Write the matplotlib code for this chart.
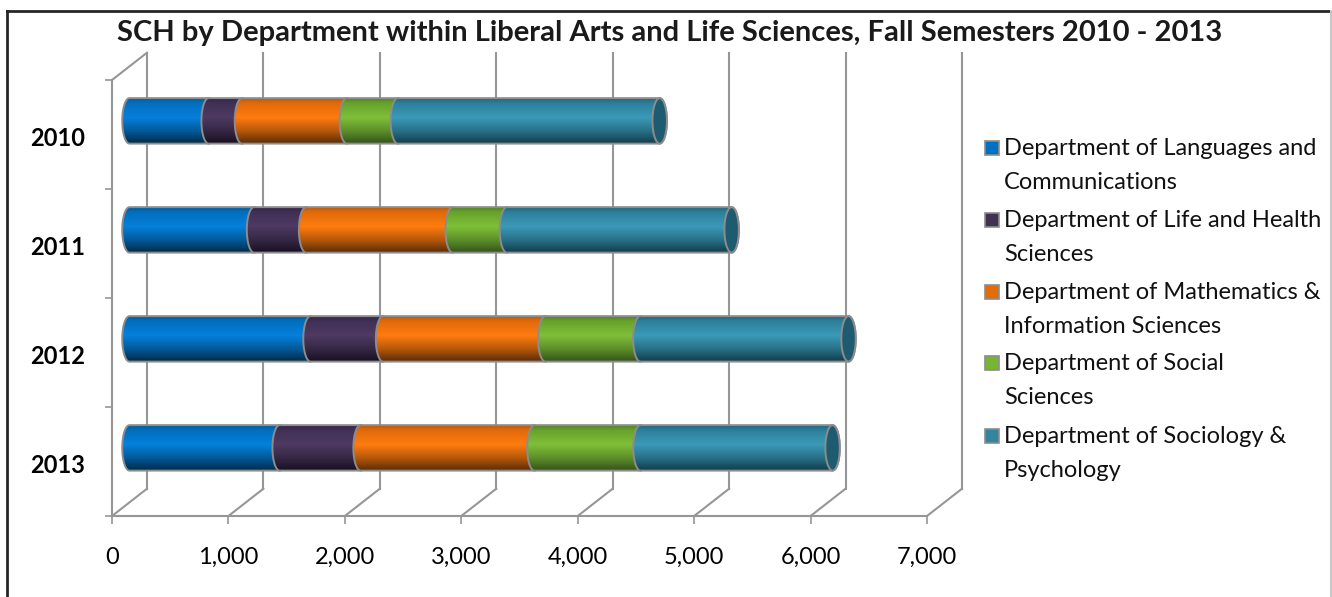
import matplotlib
matplotlib.use("Agg")
import matplotlib.pyplot as plt
import matplotlib.transforms as mtransforms
import numpy as np
from matplotlib.lines import Line2D
from matplotlib.patches import PathPatch, Rectangle
from matplotlib.path import Path

plt.rcParams["font.family"] = ["Lato", "DejaVu Sans"]

W, H = 1332, 597

years = ["2010", "2011", "2012", "2013"]
languages = [680, 1070, 1555, 1290]
life_health = [286, 447, 623, 695]
mathematics = [901, 1259, 1394, 1493]
social = [438, 466, 816, 911]
sociology = [2249, 1930, 1788, 1650]
x_ticks = [0, 1000, 2000, 3000, 4000, 5000, 6000, 7000]

series = [languages, life_health, mathematics, social, sociology]
legend_labels = [
    "Department of Languages and\nCommunications",
    "Department of Life and Health\nSciences",
    "Department of Mathematics &\nInformation Sciences",
    "Department of Social\nSciences",
    "Department of Sociology &\nPsychology",
]
legend_colors = ["#0070C0", "#403152", "#E36C09", "#76B531", "#31859C"]
# top edge, bright band, bottom edge of each cylinder
shades = [
    ("#005C9C", "#0580DC", "#002A45"),
    ("#33254A", "#4E3A62", "#180F20"),
    ("#C05805", "#FF7C10", "#5A2B05"),
    ("#4E8420", "#7FBF38", "#33521A"),
    ("#20647C", "#3A9AB8", "#123C4A"),
]
cap_color = "#1F5B70"
grid_color = "#969696"
edge_color = "#8C8C8C"

# depth of the fake 3D box, in data units
depth_x = 300
depth_y = 0.25
bar_h = 0.417
cap_w = 62


def hex_rgb(c):
    return np.array(matplotlib.colors.to_rgb(c))


def gradient(top, mid, bottom):
    t = np.linspace(0, 1, 64)
    stops = [0, 0.1, 0.42, 0.72, 1]
    top, mid, bottom = hex_rgb(top), hex_rgb(mid), hex_rgb(bottom)
    cols = [top, top * 0.5 + mid * 0.5, mid, mid * 0.55 + bottom * 0.45, bottom]
    return np.stack([np.interp(t, stops, [c[i] for c in cols]) for i in range(3)], axis=1)[:, None, :]


def segment_path(x0, x1, yc):
    # left side bows out like the front of a cylinder, right side is covered by the next one
    a = np.linspace(np.pi / 2, 3 * np.pi / 2, 40)
    b = a + np.pi
    left = np.column_stack([x0 + cap_w * np.cos(a), yc - bar_h / 2 * np.sin(a)])
    right = np.column_stack([x1 + cap_w * np.cos(b), yc - bar_h / 2 * np.sin(b)])
    return Path(np.vstack([left, right, left[:1]]))


fig = plt.figure(figsize=(W / 100, H / 100), dpi=100)
ax = fig.add_axes([112 / W, 1 - 516 / H, (927 - 112) / W, (516 - 80) / H])
ax.set_xlim(0, 7000)
ax.set_ylim(4, 0)

for s in ["top", "right"]:
    ax.spines[s].set_visible(False)
for s in ["left", "bottom"]:
    ax.spines[s].set_color(grid_color)
    ax.spines[s].set_linewidth(1.5)

ax.set_xticks(x_ticks)
ax.set_xticklabels([f"{v:,}" for v in x_ticks], fontsize=17)
ax.set_yticks([0, 1, 2, 3, 4])
ax.set_yticklabels([])
ax.set_yticks(np.arange(len(years)) + 0.5, minor=True)
ax.set_yticklabels(years, minor=True, fontsize=17, fontweight="bold")
ax.tick_params(axis="x", length=5.5, width=1.2, color=grid_color, pad=16.5)
ax.tick_params(axis="y", which="major", length=5, width=1.2, color=grid_color)
ax.tick_params(axis="y", which="minor", length=0, pad=19.5)
for lab in ax.get_yticklabels(minor=True):
    lab.set_transform(lab.get_transform() + mtransforms.Affine2D().translate(0, -2))

# back wall and floor lines
for v in x_ticks:
    ax.plot([v, v + depth_x], [4, 4 - depth_y], color=grid_color, lw=1.5, clip_on=False, zorder=1)
    ax.plot([v + depth_x, v + depth_x], [4 - depth_y, -depth_y], color=grid_color, lw=1.5, clip_on=False, zorder=1)
ax.plot([0, depth_x], [0, -depth_y], color=grid_color, lw=1.5, clip_on=False, zorder=1)

# cylinders
for i in range(len(years)):
    yc = i + 0.5 - depth_y / 2
    left = depth_x / 2
    for j, vals in enumerate(series):
        right = left + vals[i]
        path = segment_path(left, right, yc)
        img = ax.imshow(gradient(*shades[j]), extent=(left - cap_w, right + cap_w, yc + bar_h / 2, yc - bar_h / 2),
                        aspect="auto", zorder=3 + j * 0.1, interpolation="bilinear")
        patch = PathPatch(path, facecolor="none", edgecolor=edge_color, lw=1.4, zorder=3.05 + j * 0.1)
        ax.add_patch(patch)
        img.set_clip_path(patch)
        left = right
    a = np.linspace(0, 2 * np.pi, 60)
    cap = np.column_stack([left + cap_w * np.cos(a), yc + bar_h / 2 * np.sin(a)])
    ax.add_patch(PathPatch(Path(cap), facecolor=cap_color, edgecolor=edge_color, lw=1.4, zorder=4))

ax.set_xlim(0, 7000)
ax.set_ylim(4, 0)

fig.text(670 / W, 1 - 33 / H, "SCH by Department within Liberal Arts and Life Sciences, Fall Semesters 2010 - 2013",
         ha="center", va="center", fontsize=21, fontweight="bold", color="#1a1a1a")

# legend: square lines up with the first row of each label
for k, (label, col) in enumerate(zip(legend_labels, legend_colors)):
    y0 = 148 + 72 * k - (1 if k == 3 else 0)
    fig.add_artist(Rectangle((985 / W, 1 - (y0 + 7) / H), 14 / W, 14 / H, transform=fig.transFigure,
                             facecolor=col, edgecolor=edge_color, lw=1.2))
    fig.text(1004 / W, 1 - (y0 - 10) / H, label, ha="left", va="top", fontsize=17, linespacing=1.76, color="#111111")

# outer frame
fig.add_artist(Line2D([7 / W, 7 / W], [0, 1 - 11 / H], color="#262626", lw=2))
fig.add_artist(Line2D([7 / W, 1331 / W], [1 - 11 / H, 1 - 11 / H], color="#262626", lw=2))
fig.add_artist(Line2D([1331 / W, 1331 / W], [0, 1 - 11 / H], color="#c8c8c8", lw=1.5))

fig.savefig("out.png", dpi=100)
